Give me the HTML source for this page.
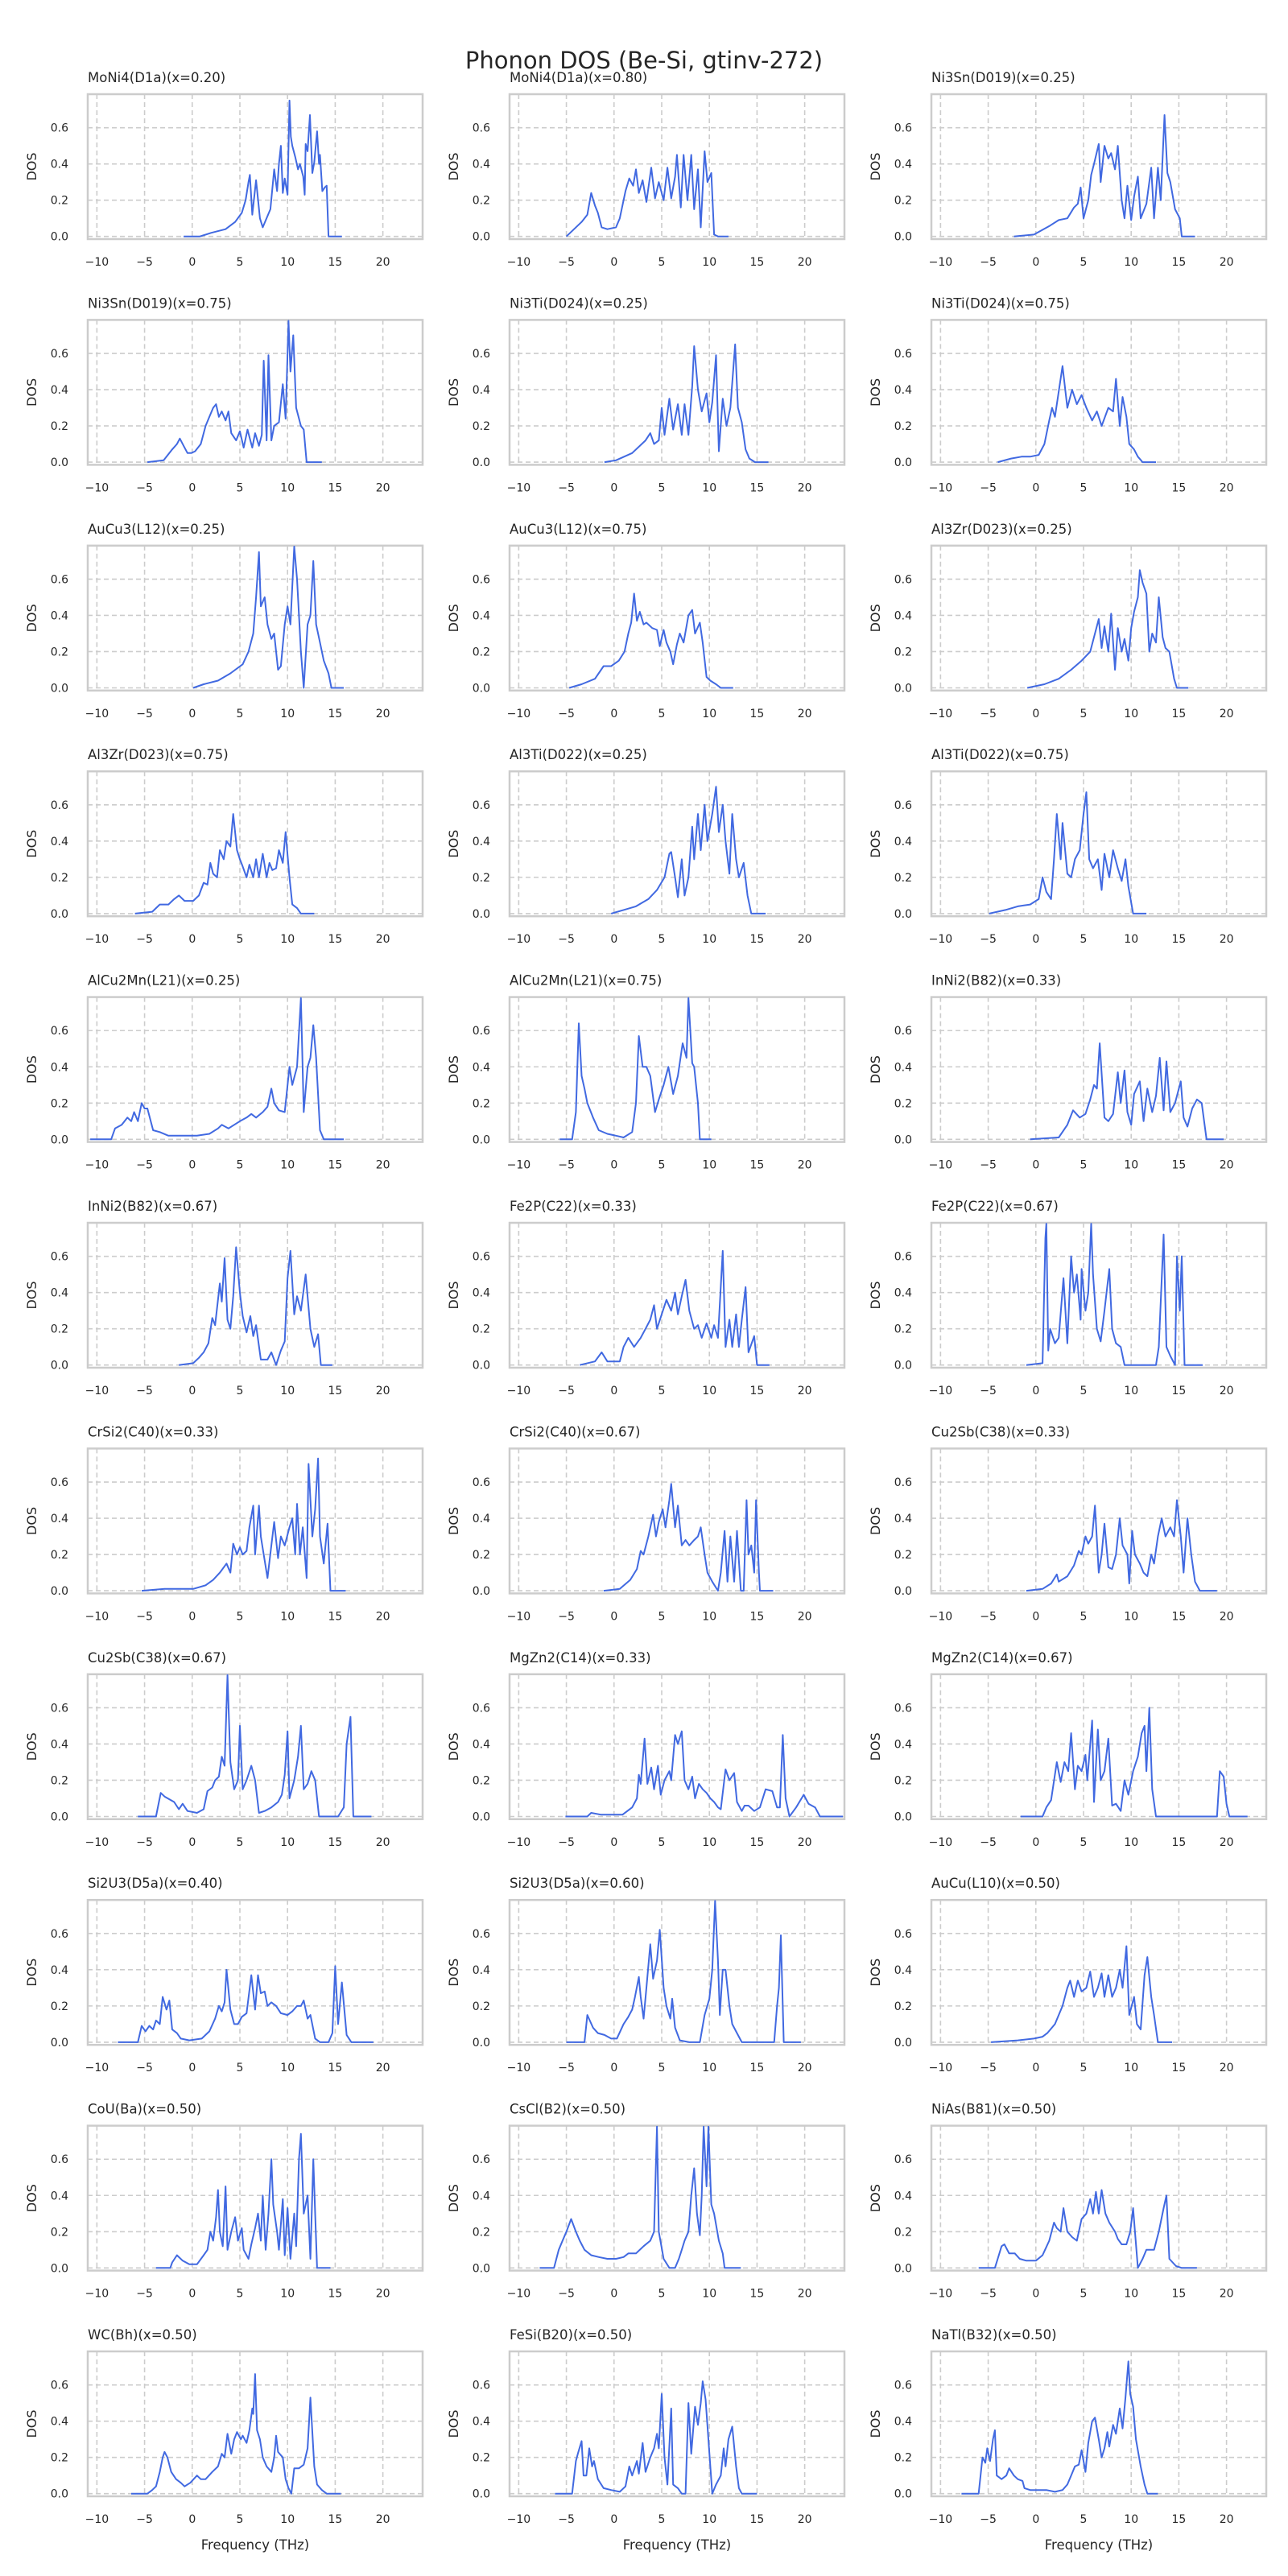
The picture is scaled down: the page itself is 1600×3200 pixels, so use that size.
<!DOCTYPE html>
<html><head><meta charset="utf-8"><title>Phonon DOS (Be-Si, gtinv-272)</title>
<style>html,body{margin:0;padding:0;background:#fff}svg{display:block}text{font-family:"DejaVu Sans","Liberation Sans",sans-serif;fill:#262626}</style>
</head><body>
<svg id="fig" width="1600" height="3200" viewBox="0 0 1600 3200" xmlns="http://www.w3.org/2000/svg">
<rect x="0" y="0" width="1600" height="3200" fill="#fff"/>
<text x="800" y="85" text-anchor="middle" font-size="29">Phonon DOS (Be-Si, gtinv-272)</text>
</svg>
<script>
const titles = ["MoNi4(D1a)(x=0.20)","MoNi4(D1a)(x=0.80)","Ni3Sn(D019)(x=0.25)","Ni3Sn(D019)(x=0.75)","Ni3Ti(D024)(x=0.25)","Ni3Ti(D024)(x=0.75)","AuCu3(L12)(x=0.25)","AuCu3(L12)(x=0.75)","Al3Zr(D023)(x=0.25)","Al3Zr(D023)(x=0.75)","Al3Ti(D022)(x=0.25)","Al3Ti(D022)(x=0.75)","AlCu2Mn(L21)(x=0.25)","AlCu2Mn(L21)(x=0.75)","InNi2(B82)(x=0.33)","InNi2(B82)(x=0.67)","Fe2P(C22)(x=0.33)","Fe2P(C22)(x=0.67)","CrSi2(C40)(x=0.33)","CrSi2(C40)(x=0.67)","Cu2Sb(C38)(x=0.33)","Cu2Sb(C38)(x=0.67)","MgZn2(C14)(x=0.33)","MgZn2(C14)(x=0.67)","Si2U3(D5a)(x=0.40)","Si2U3(D5a)(x=0.60)","AuCu(L10)(x=0.50)","CoU(Ba)(x=0.50)","CsCl(B2)(x=0.50)","NiAs(B81)(x=0.50)","WC(Bh)(x=0.50)","FeSi(B20)(x=0.50)","NaTl(B32)(x=0.50)"];
const xTicks = [-10,-5,0,5,10,15,20];
const yTicks = [0,0.2,0.4,0.6];
const yTickLabels = ["0.0","0.2","0.4","0.6"];
const xDomain = [-10.96, 24.17];
const yDomain = [-0.0147, 0.785];

const f0=[-0.9,0.8,2,3.5,4.5,5.2,5.6,5.9,6.05,6.3,6.7,7.1,7.4,8.2,8.6,8.9,9.1,9.3,9.5,9.7,10,10.2,10.35,10.5,10.8,11.1,11.3,11.65,11.8,11.9,12.1,12.35,12.6,12.8,13.1,13.3,13.4,13.65,13.9,14.1,14.3,15.7];
const d0=[0,0,0.02,0.04,0.08,0.13,0.2,0.3,0.34,0.12,0.31,0.1,0.05,0.15,0.37,0.25,0.4,0.5,0.24,0.32,0.23,0.75,0.55,0.5,0.44,0.37,0.4,0.33,0.23,0.51,0.47,0.67,0.35,0.41,0.58,0.4,0.45,0.25,0.27,0.28,0,0];
const f1=[-5,-3.4,-2.8,-2.4,-2,-1.7,-1.3,-0.7,0.2,0.6,1.2,1.6,2,2.3,2.6,3,3.4,3.9,4.3,4.7,5.2,5.6,6,6.4,6.6,7,7.3,7.7,8.1,8.4,8.8,9.1,9.5,9.8,10.2,10.5,10.9,12];
const d1=[0,0.08,0.12,0.24,0.17,0.13,0.05,0.04,0.05,0.1,0.25,0.32,0.28,0.37,0.24,0.31,0.19,0.38,0.21,0.3,0.2,0.38,0.21,0.33,0.45,0.16,0.45,0.2,0.45,0.15,0.37,0.05,0.47,0.3,0.35,0.01,0,0];
const f2=[-2.3,-0.2,1.5,2.4,3.3,4,4.4,4.7,5,5.5,5.8,6.1,6.6,6.8,7.2,7.6,7.9,8.3,8.6,9,9.3,9.6,10,10.3,10.7,11,11.6,12.1,12.4,12.8,13.1,13.5,13.8,14.1,14.6,15.1,15.3,16.7];
const d2=[0,0.01,0.06,0.09,0.1,0.16,0.18,0.27,0.1,0.2,0.34,0.4,0.51,0.3,0.5,0.43,0.46,0.37,0.5,0.2,0.1,0.28,0.09,0.22,0.33,0.1,0.18,0.38,0.1,0.38,0.2,0.67,0.35,0.3,0.15,0.1,0,0];
const f3=[-4.7,-3,-2.1,-1.6,-1.3,-0.9,-0.5,-0.1,0.3,0.9,1.4,1.8,2.2,2.5,2.8,3.1,3.5,3.8,4.1,4.6,5,5.4,5.8,6,6.3,6.6,7,7.3,7.5,7.8,8,8.3,8.6,9.1,9.5,9.8,10.1,10.3,10.6,10.9,11.4,11.7,12,13.6];
const d3=[0,0.01,0.07,0.1,0.13,0.09,0.05,0.05,0.06,0.1,0.2,0.25,0.3,0.32,0.25,0.28,0.23,0.28,0.16,0.12,0.17,0.08,0.18,0.14,0.08,0.16,0.09,0.15,0.56,0.12,0.59,0.12,0.2,0.22,0.43,0.24,0.78,0.5,0.7,0.3,0.2,0.18,0,0];
const f4=[-1,0.2,1.9,3.3,3.8,4.2,4.7,5,5.3,5.8,6.2,6.7,7.1,7.4,7.8,8.2,8.4,8.8,9.2,9.7,10,10.3,10.7,11,11.4,11.8,12.2,12.7,13,13.4,13.8,14.2,14.8,16.2];
const d4=[0,0.01,0.05,0.12,0.16,0.1,0.12,0.3,0.15,0.35,0.18,0.32,0.15,0.32,0.15,0.42,0.64,0.4,0.28,0.38,0.22,0.33,0.59,0.06,0.35,0.2,0.3,0.65,0.3,0.22,0.07,0.02,0,0];
const f5=[-4,-2.6,-1.5,-0.6,0.3,0.9,1.4,1.7,2,2.8,3.3,3.8,4.3,4.8,5.3,5.9,6.4,6.9,7.6,8.1,8.4,8.8,9.1,9.5,9.8,10.3,10.7,11.2,12.6];
const d5=[0,0.02,0.03,0.03,0.04,0.1,0.23,0.3,0.25,0.53,0.3,0.4,0.32,0.37,0.3,0.23,0.28,0.2,0.3,0.28,0.46,0.2,0.36,0.25,0.1,0.07,0.03,0,0];
const f6=[0.1,1.2,2.7,4,5.3,5.9,6.4,6.7,7,7.2,7.6,7.9,8.3,8.6,9,9.3,9.7,10,10.3,10.7,11,11.4,11.7,12.1,12.4,12.7,13,13.4,13.8,14.3,14.6,15.9];
const d6=[0,0.02,0.04,0.08,0.13,0.2,0.3,0.5,0.75,0.45,0.5,0.35,0.27,0.3,0.1,0.12,0.35,0.45,0.35,0.78,0.6,0.2,0,0.35,0.4,0.7,0.35,0.25,0.15,0.08,0,0];
const f7=[-4.7,-3.4,-2,-1.1,-0.3,0.5,1.1,1.5,1.8,2.1,2.4,2.7,3.1,3.4,4,4.5,4.8,5.2,5.5,5.9,6.2,6.6,6.9,7.3,7.8,8.2,8.5,9,9.3,9.7,10.1,10.7,11.2,12.5];
const d7=[0,0.02,0.05,0.12,0.12,0.15,0.2,0.3,0.36,0.52,0.37,0.42,0.35,0.36,0.33,0.32,0.23,0.32,0.25,0.2,0.13,0.24,0.3,0.25,0.4,0.43,0.3,0.36,0.25,0.06,0.04,0.02,0,0];
const f8=[-0.9,0.9,2.4,3.7,4.8,5.7,6.2,6.6,6.9,7.2,7.6,7.9,8.3,8.6,9,9.3,9.7,10,10.3,10.7,10.9,11.2,11.6,11.9,12.2,12.6,12.9,13.3,13.6,14,14.5,14.8,16];
const d8=[0,0.02,0.05,0.1,0.15,0.2,0.3,0.38,0.22,0.34,0.2,0.41,0.1,0.33,0.2,0.27,0.15,0.33,0.42,0.5,0.65,0.58,0.52,0.2,0.3,0.25,0.5,0.28,0.22,0.2,0.05,0,0];
const f9=[-6,-4.2,-3.4,-2.5,-1.9,-1.4,-0.8,0.1,0.7,1.2,1.6,1.9,2.2,2.6,2.9,3.3,3.6,4,4.3,4.7,5,5.3,5.7,6,6.4,6.7,7,7.4,7.8,8.1,8.4,8.8,9.1,9.5,9.8,10.2,10.5,11,11.4,12.8];
const d9=[0,0.01,0.05,0.05,0.08,0.1,0.07,0.07,0.1,0.17,0.16,0.28,0.22,0.2,0.35,0.3,0.4,0.37,0.55,0.35,0.3,0.26,0.2,0.27,0.2,0.3,0.2,0.33,0.2,0.28,0.24,0.25,0.35,0.28,0.45,0.2,0.05,0.03,0,0];
const f10=[-0.3,1,2.3,3.6,4.5,5.3,5.8,6,6.4,6.7,7.1,7.4,7.8,8.2,8.4,8.8,9.1,9.5,9.8,10.3,10.7,11,11.4,11.7,12.1,12.4,12.8,13.1,13.6,14,14.4,15.9];
const d10=[0,0.02,0.04,0.08,0.13,0.2,0.33,0.34,0.2,0.09,0.3,0.1,0.2,0.48,0.3,0.55,0.35,0.6,0.4,0.55,0.7,0.45,0.6,0.4,0.22,0.55,0.3,0.2,0.28,0.1,0,0];
const f11=[-4.9,-3.2,-1.9,-0.6,0.3,0.7,1.1,1.6,1.9,2.2,2.6,2.8,3.3,3.7,4.1,4.6,5,5.3,5.6,6,6.5,6.9,7.2,7.7,8.1,8.6,9,9.4,9.7,10.2,11.6];
const d11=[0,0.02,0.04,0.05,0.08,0.2,0.12,0.08,0.3,0.55,0.3,0.5,0.22,0.2,0.3,0.35,0.55,0.67,0.3,0.25,0.3,0.13,0.33,0.2,0.35,0.25,0.18,0.3,0.15,0,0];
const f12=[-10.7,-8.5,-8.1,-7.4,-6.8,-6.4,-6.1,-5.7,-5.3,-5,-4.7,-4.1,-3.4,-2.5,-1.2,0.5,1.8,2.7,3.1,3.8,4.4,5,5.7,6.2,6.7,7.4,7.9,8.3,8.6,9.1,9.7,10.2,10.5,11,11.4,11.7,12.1,12.4,12.7,13,13.4,13.8,15.9];
const d12=[0,0,0.06,0.08,0.12,0.1,0.15,0.1,0.2,0.17,0.17,0.05,0.04,0.02,0.02,0.02,0.03,0.06,0.08,0.06,0.08,0.1,0.12,0.14,0.12,0.15,0.18,0.28,0.2,0.16,0.15,0.4,0.3,0.4,0.78,0.15,0.4,0.45,0.63,0.45,0.05,0,0];
const f13=[-5.7,-4.4,-4,-3.7,-3.4,-3.1,-2.8,-2.2,-1.6,-0.7,0.2,1,1.9,2.3,2.6,3,3.4,3.8,4.3,4.7,5.2,5.7,6.2,6.7,7.2,7.6,7.8,8.2,8.4,8.8,9,10.2];
const d13=[0,0,0.15,0.64,0.35,0.28,0.2,0.12,0.05,0.03,0.02,0.01,0.04,0.2,0.57,0.4,0.4,0.35,0.15,0.22,0.3,0.4,0.25,0.35,0.53,0.45,0.78,0.42,0.4,0.2,0,0];
const f14=[-0.6,2.4,3.3,3.9,4.6,5.2,5.7,6.1,6.4,6.7,7.2,7.6,8.1,8.6,8.9,9.3,9.6,10,10.3,10.9,11.3,11.7,12.2,12.6,13,13.4,13.7,14.1,14.6,15.2,15.5,15.9,16.4,16.9,17.4,17.9,19.7];
const d14=[0,0.01,0.08,0.16,0.12,0.14,0.22,0.3,0.28,0.53,0.12,0.1,0.14,0.37,0.2,0.38,0.15,0.08,0.25,0.32,0.1,0.28,0.15,0.24,0.45,0.16,0.43,0.15,0.2,0.32,0.12,0.07,0.17,0.22,0.2,0,0];
const f15=[-1.4,0.1,0.7,1.2,1.7,2.1,2.4,2.9,3.1,3.4,3.7,4,4.3,4.6,5,5.3,5.7,6.1,6.4,6.7,7.2,7.9,8.3,8.8,9.3,9.7,10,10.3,10.7,11,11.4,11.9,12.4,12.8,13.2,13.5,14.7];
const d15=[0,0.01,0.04,0.07,0.12,0.26,0.22,0.45,0.35,0.59,0.25,0.2,0.38,0.65,0.4,0.27,0.18,0.27,0.16,0.22,0.03,0.03,0.07,0,0.08,0.13,0.48,0.63,0.28,0.38,0.3,0.5,0.2,0.1,0.17,0,0];
const f16=[-3.6,-2,-1.3,-0.7,0.6,1,1.5,2.1,2.8,3.3,3.8,4.2,4.5,5,5.5,6,6.4,6.7,7.1,7.5,7.9,8.4,8.8,9.2,9.7,10.2,10.5,10.9,11.4,11.7,12.1,12.4,12.8,13.1,13.4,13.8,14.1,14.7,15,16.3];
const d16=[0,0.02,0.07,0.02,0.02,0.1,0.15,0.1,0.15,0.2,0.25,0.33,0.2,0.28,0.36,0.3,0.4,0.28,0.38,0.47,0.3,0.2,0.22,0.15,0.23,0.15,0.22,0.15,0.63,0.1,0.25,0.1,0.28,0.1,0.25,0.43,0.07,0.16,0,0];
const f17=[-1,0.7,1,1.1,1.3,1.5,2,2.4,2.9,3.3,3.7,4,4.3,4.7,4.8,5.2,5.5,5.8,6,6.4,6.8,7.2,7.7,8,8.4,8.9,9.3,12.6,12.9,13.4,13.7,14.1,14.6,14.8,15.1,15.3,15.6,17.5];
const d17=[0,0.01,0.7,0.78,0.08,0.2,0.12,0.15,0.48,0.12,0.6,0.4,0.5,0.25,0.53,0.3,0.4,0.78,0.5,0.2,0.13,0.3,0.53,0.2,0.12,0.1,0,0,0.1,0.72,0.1,0.05,0,0.6,0.3,0.6,0,0];
const f18=[-5.3,-2.9,0.1,1.4,2.2,2.9,3.6,4,4.3,4.7,5,5.3,5.7,6,6.4,6.6,7,7.2,7.5,7.9,8.3,8.6,9,9.3,9.7,10.2,10.5,10.8,11,11.3,11.6,12,12.2,12.6,12.9,13.2,13.4,13.8,14.2,14.5,16.1];
const d18=[0,0.01,0.01,0.03,0.06,0.1,0.15,0.1,0.26,0.2,0.24,0.2,0.22,0.35,0.47,0.2,0.47,0.3,0.2,0.07,0.25,0.38,0.18,0.3,0.25,0.35,0.4,0.2,0.48,0.2,0.35,0.07,0.7,0.3,0.45,0.73,0.3,0.15,0.37,0,0];
const f19=[-1.1,0.6,1.7,2.4,2.8,3.1,3.6,4.1,4.4,4.7,5.1,5.4,5.8,6,6.4,6.7,7.1,7.5,7.9,8.4,8.8,9.1,9.5,9.8,10.3,10.9,11.2,11.6,11.9,12.2,12.6,12.9,13.3,13.6,13.9,14.1,14.4,14.7,14.9,15.2,15.3,16.7];
const d19=[0,0.01,0.06,0.12,0.22,0.2,0.3,0.42,0.3,0.38,0.45,0.35,0.5,0.59,0.35,0.47,0.25,0.28,0.25,0.28,0.3,0.35,0.2,0.1,0.05,0,0.1,0.33,0.05,0.3,0.05,0.33,0,0,0.5,0.2,0.25,0.1,0.5,0.1,0,0];
const f20=[-1,0.7,1.6,2.2,2.4,3.3,4,4.5,4.8,5.2,5.5,5.9,6.2,6.6,6.9,7.2,7.6,8,8.4,8.8,9.1,9.6,9.8,10.1,10.4,10.9,11.3,11.7,12.1,12.4,12.8,13.2,13.6,14.1,14.5,14.8,15.2,15.5,15.9,16.3,16.7,17.2,19];
const d20=[0,0.01,0.04,0.09,0.05,0.08,0.14,0.22,0.2,0.3,0.26,0.3,0.47,0.1,0.2,0.37,0.13,0.12,0.2,0.4,0.25,0.2,0.04,0.33,0.2,0.15,0.1,0.08,0.2,0.15,0.3,0.4,0.3,0.35,0.3,0.5,0.3,0.1,0.4,0.2,0.05,0,0];
const f21=[-5.7,-3.8,-3.3,-2.9,-1.9,-1.4,-1,-0.5,0.5,1.2,1.6,2.1,2.4,2.8,3.1,3.4,3.7,4,4.4,4.8,5,5.3,5.7,6.2,6.6,7,7.6,8.3,9,9.4,9.7,10,10.2,10.7,11.1,11.4,11.7,12.1,12.5,12.9,13.3,15.3,15.9,16.2,16.6,16.9,18.8];
const d21=[0,0,0.13,0.11,0.08,0.04,0.07,0.03,0.02,0.04,0.14,0.16,0.2,0.22,0.33,0.28,0.78,0.3,0.15,0.2,0.5,0.15,0.2,0.28,0.2,0.02,0.03,0.05,0.08,0.12,0.23,0.47,0.1,0.2,0.33,0.5,0.15,0.18,0.25,0.2,0,0,0.05,0.4,0.55,0,0];
const f22=[-5.1,-2.8,-2.4,-1.4,0.9,1.9,2.4,2.6,2.8,3.2,3.5,3.9,4.2,4.6,4.9,5.3,5.8,6,6.4,6.7,7.1,7.4,7.8,8.2,8.5,8.9,9.3,9.7,10.1,10.5,10.9,11.2,11.7,12.1,12.6,12.9,13.4,13.7,14.1,14.7,15.3,15.9,16.6,17.1,17.4,17.7,18,18.4,19.1,19.9,20.4,21.1,21.6,24];
const d22=[0,0,0.02,0.01,0.01,0.05,0.1,0.23,0.18,0.43,0.18,0.27,0.15,0.28,0.12,0.2,0.25,0.2,0.45,0.4,0.47,0.2,0.15,0.22,0.1,0.18,0.15,0.13,0.1,0.08,0.05,0.04,0.26,0.2,0.24,0.08,0.03,0.06,0.06,0.03,0.05,0.15,0.14,0.05,0.05,0.45,0.1,0,0.05,0.12,0.07,0.05,0,0];
const f23=[-1.6,0.7,1.1,1.6,2.2,2.6,3,3.4,3.7,4.1,4.4,4.8,5.2,5.4,5.9,6.1,6.5,6.8,7.2,7.6,8,8.4,8.9,9.3,9.7,10.2,10.7,11.1,11.4,11.6,11.9,12.2,12.6,19,19.3,19.7,20,20.3,22.2];
const d23=[0,0,0.05,0.09,0.3,0.19,0.3,0.25,0.46,0.15,0.28,0.25,0.34,0.2,0.53,0.08,0.48,0.2,0.25,0.43,0.06,0.07,0.03,0.2,0.12,0.25,0.33,0.46,0.5,0.25,0.6,0.15,0,0,0.25,0.22,0.07,0,0];
const f24=[-7.8,-5.7,-5.3,-4.9,-4.5,-4.1,-3.8,-3.4,-3.1,-2.7,-2.4,-2.1,-1.6,-1.2,-0.3,1,1.8,2.4,2.8,3.1,3.4,3.6,4,4.4,4.8,5.2,5.7,6.2,6.6,6.9,7.2,7.6,7.9,8.3,8.8,9.3,10,10.5,11,11.4,11.7,12.1,12.4,12.9,13.4,14.3,14.7,15,15.3,15.7,16.2,16.7,19];
const d24=[0,0,0.09,0.06,0.09,0.07,0.12,0.1,0.25,0.18,0.23,0.07,0.05,0.02,0.01,0.02,0.06,0.13,0.2,0.17,0.22,0.4,0.18,0.1,0.1,0.14,0.16,0.37,0.18,0.37,0.27,0.28,0.2,0.22,0.2,0.16,0.15,0.17,0.2,0.2,0.23,0.13,0.15,0.02,0,0,0.05,0.42,0.1,0.33,0.04,0,0];
const f25=[-5,-3.1,-2.8,-2.2,-1.7,-1,-0.3,0.3,1,1.5,1.9,2.2,2.6,2.8,3.1,3.4,3.8,4.1,4.5,4.8,5.2,5.5,5.9,6.1,6.4,6.9,7.9,9,9.5,10,10.3,10.6,10.9,11.1,11.4,11.7,12.1,12.4,12.9,13.4,16.8,17.1,17.3,17.5,17.8,19.6];
const d25=[0,0,0.15,0.08,0.05,0.04,0.02,0.02,0.1,0.14,0.18,0.25,0.36,0.25,0.13,0.3,0.54,0.35,0.45,0.62,0.3,0.2,0.13,0.24,0.08,0.01,0,0,0.15,0.24,0.4,0.78,0.45,0.15,0.4,0.4,0.2,0.1,0.05,0,0,0.2,0.3,0.59,0,0];
const f26=[-4.7,-1.9,-0.2,0.7,1.2,2,2.8,3.3,3.6,4,4.4,4.8,5.3,5.7,6.1,6.5,6.9,7.2,7.6,8,8.4,8.8,9.1,9.5,9.8,10.3,10.6,11,11.4,11.7,12.1,12.4,12.8,14.3];
const d26=[0,0.01,0.02,0.03,0.05,0.1,0.2,0.3,0.34,0.25,0.34,0.28,0.3,0.39,0.25,0.3,0.38,0.25,0.37,0.25,0.3,0.4,0.3,0.53,0.15,0.25,0.1,0.07,0.37,0.47,0.25,0.15,0,0];
const f27=[-3.8,-2.3,-2.1,-1.6,-1,-0.3,0.5,1.2,1.6,1.9,2.2,2.5,2.7,2.9,3.2,3.5,3.7,4.1,4.5,4.8,5.2,5.4,5.9,6.2,6.6,6.9,7.2,7.4,7.7,8,8.3,8.5,8.9,9.1,9.5,9.7,10,10.3,10.7,10.9,11.2,11.4,11.7,12.1,12.4,12.7,12.9,13.1,14.5];
const d27=[0,0,0.03,0.07,0.04,0.02,0.02,0.07,0.1,0.2,0.15,0.28,0.43,0.2,0.12,0.45,0.1,0.2,0.28,0.15,0.22,0.1,0.05,0.13,0.22,0.3,0.15,0.4,0.1,0.3,0.6,0.35,0.2,0.1,0.38,0.07,0.33,0.05,0.3,0.12,0.6,0.74,0.3,0.4,0.05,0.6,0.3,0,0];
const f28=[-7.8,-6.3,-5.8,-5.4,-5,-4.5,-4,-3.6,-3.1,-2.4,-1.6,-0.7,0.2,1,1.5,2.3,3.1,3.8,4.2,4.5,4.7,5.2,5.8,6.4,6.8,7.1,7.4,7.8,8.1,8.4,8.7,9,9.2,9.4,9.7,9.9,10.2,10.5,11,11.4,11.6,13.3];
const d28=[0,0,0.1,0.15,0.2,0.27,0.2,0.15,0.1,0.07,0.06,0.05,0.05,0.06,0.08,0.08,0.12,0.15,0.2,0.78,0.2,0.05,0,0,0.05,0.1,0.15,0.2,0.4,0.55,0.3,0.18,0.4,0.78,0.45,0.78,0.35,0.3,0.15,0.08,0,0];
const f29=[-6,-4.3,-4,-3.6,-3.3,-2.8,-2.2,-1.7,-1,0,0.7,1.4,1.9,2.2,2.6,2.9,3.3,3.8,4.3,4.8,5.3,5.7,6,6.3,6.6,6.9,7.3,7.7,8.3,8.6,9,9.5,9.9,10.2,10.4,10.7,11.2,11.6,12.1,12.4,12.9,13.4,13.7,14,14.7,15.3,16.9];
const d29=[0,0,0.05,0.12,0.13,0.08,0.08,0.05,0.04,0.04,0.07,0.15,0.25,0.22,0.2,0.33,0.2,0.17,0.15,0.27,0.3,0.38,0.3,0.42,0.3,0.43,0.3,0.25,0.2,0.16,0.13,0.13,0.2,0.33,0.2,0,0.05,0.1,0.1,0.1,0.2,0.33,0.4,0.05,0.01,0,0];
const f30=[-6.4,-4.7,-4.2,-3.8,-3.4,-3.1,-2.9,-2.6,-2.2,-1.7,-1.2,-0.8,-0.2,0.5,0.9,1.4,2.1,2.7,3.1,3.4,3.7,4.1,4.4,4.7,5.1,5.3,5.7,6,6.3,6.4,6.6,6.8,7.1,7.4,7.8,8.3,8.6,8.8,9,9.5,9.8,10.1,10.4,10.7,11.2,11.7,12.1,12.4,12.8,13.1,13.6,14.1,15.6];
const d30=[0,0,0.02,0.04,0.12,0.2,0.23,0.2,0.12,0.08,0.06,0.04,0.06,0.1,0.08,0.08,0.12,0.15,0.22,0.2,0.33,0.22,0.3,0.34,0.3,0.32,0.28,0.35,0.47,0.44,0.66,0.35,0.3,0.2,0.15,0.12,0.2,0.32,0.23,0.2,0.08,0.03,0,0.14,0.14,0.16,0.25,0.53,0.15,0.05,0.02,0,0];
const f31=[-6.2,-4.4,-4,-3.8,-3.4,-3.2,-2.9,-2.6,-2.3,-2.1,-1.7,-1.1,-0.3,0.6,1.2,1.6,1.9,2.4,2.6,3,3.3,3.8,4.2,4.5,4.7,5,5.3,5.6,6,6.2,6.7,7.1,7.5,7.8,8.1,8.5,8.8,9.1,9.3,9.6,9.9,10.3,10.7,11.2,11.5,11.7,12,12.4,12.8,13.1,13.4,15];
const d31=[0,0,0.18,0.22,0.29,0.1,0.1,0.25,0.15,0.18,0.08,0.03,0.02,0.01,0.04,0.15,0.1,0.18,0.11,0.28,0.12,0.2,0.25,0.33,0.25,0.55,0.2,0.05,0.47,0.05,0.03,0,0,0.5,0.22,0.48,0.38,0.5,0.62,0.52,0.3,0,0.05,0.1,0.25,0.15,0.3,0.37,0.15,0.03,0,0];
const f32=[-7.8,-6,-5.6,-5.3,-5.1,-4.8,-4.5,-4.3,-4.1,-3.6,-3.1,-2.8,-2.3,-1.9,-1.4,-1.2,-0.6,0.3,1.1,2,2.8,3.3,3.7,4.1,4.5,4.8,5.2,5.5,5.9,6.2,6.6,6.9,7.2,7.5,7.7,8.1,8.4,8.8,9.1,9.4,9.7,9.9,10.2,10.5,11,11.4,11.7,12.8];
const d32=[0,0,0.2,0.17,0.25,0.18,0.3,0.35,0.1,0.08,0.1,0.14,0.1,0.08,0.07,0.03,0.02,0.02,0.02,0.01,0.02,0.05,0.1,0.15,0.16,0.24,0.12,0.28,0.4,0.42,0.3,0.2,0.25,0.34,0.26,0.38,0.33,0.47,0.36,0.53,0.73,0.55,0.48,0.3,0.15,0.05,0,0];

const freqs=[f0,f1,f2,f3,f4,f5,f6,f7,f8,f9,f10,f11,f12,f13,f14,f15,f16,f17,f18,f19,f20,f21,f22,f23,f24,f25,f26,f27,f28,f29,f30,f31,f32];
const doses=[d0,d1,d2,d3,d4,d5,d6,d7,d8,d9,d10,d11,d12,d13,d14,d15,d16,d17,d18,d19,d20,d21,d22,d23,d24,d25,d26,d27,d28,d29,d30,d31,d32];

const NS="http://www.w3.org/2000/svg";
const svg=document.getElementById('fig');
const AX_W=416, AX_H=180, COL0=109, COL_STEP=524, ROW0=117, ROW_STEP=280.4;
function mk(tag,attrs,parent){const e=document.createElementNS(NS,tag);for(const k in attrs)e.setAttribute(k,attrs[k]);(parent||svg).appendChild(e);return e;}

for(let i=0;i<titles.length;i++){
  const c=i%3, r=Math.floor(i/3);
  const L=COL0+c*COL_STEP, T=ROW0+r*ROW_STEP;
  const xs=v=>L+(v-xDomain[0])/(xDomain[1]-xDomain[0])*AX_W;
  const ys=v=>T+AX_H-(v-yDomain[0])/(yDomain[1]-yDomain[0])*AX_H;
  const g=mk('g',{});
  
  
  const cp=mk('clipPath',{id:'clip'+i},g);
  mk('rect',{x:L,y:T,width:AX_W,height:AX_H},cp);
  for(const t of xTicks){
    const ln=mk('line',{x1:xs(t),x2:xs(t),y1:T,y2:T+AX_H,stroke:'#cccccc','stroke-width':1.6,'stroke-dasharray':'6,4'},g);
    
    
    const tx=mk('text',{x:xs(t),y:T+AX_H+33,'text-anchor':'middle','font-size':14},g);
    tx.textContent=t<0?'\u2212'+Math.abs(t):String(t);
    
    
  }
  yTicks.forEach((t,k)=>{
    const ln=mk('line',{x1:L,x2:L+AX_W,y1:ys(t),y2:ys(t),stroke:'#cccccc','stroke-width':1.6,'stroke-dasharray':'6,4'},g);
    
    
    const tx=mk('text',{x:L-24,y:ys(t)+5,'text-anchor':'end','font-size':14},g);
    tx.textContent=yTickLabels[k];
    
    
  });
  const box=mk('rect',{x:L,y:T,width:AX_W,height:AX_H,fill:'none',stroke:'#cccccc','stroke-width':2.5},g);
  
  
  const fr=freqs[i], ds=doses[i];
  let d='';
  for(let k=0;k<fr.length;k++){d+=(k?'L':'M')+xs(fr[k]).toFixed(1)+' '+ys(ds[k]).toFixed(1);}
  const p=mk('path',{d:d,fill:'none',stroke:'#4169e1','stroke-width':2,'stroke-linejoin':'round','clip-path':'url(#clip'+i+')'},g);
  
  
  const tt=mk('text',{x:L,y:T-15,'font-size':16.5},g);
  tt.textContent=titles[i];
  
  
  const yl=mk('text',{x:L-64,y:T+AX_H/2,'text-anchor':'middle','font-size':16,transform:'rotate(-90 '+(L-64)+' '+(T+AX_H/2)+')'},g);
  yl.textContent='DOS';
  
  
  if(r===10){
    const xl=mk('text',{x:L+AX_W/2,y:T+AX_H+66,'text-anchor':'middle','font-size':16.5},g);
    xl.textContent='Frequency (THz)';
    
    
  }
}
</script>
</body></html>
